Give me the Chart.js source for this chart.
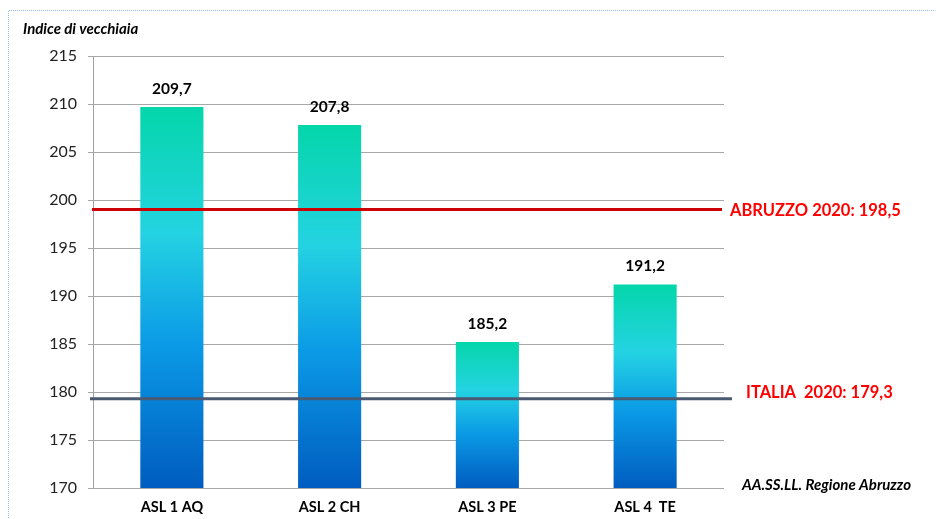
<!DOCTYPE html>
<html>
<head>
<meta charset="utf-8">
<script src="https://cdn.jsdelivr.net/npm/chart.js@4.4.0/dist/chart.umd.min.js"></script>
<style>
  html, body { margin: 0; padding: 0; background: #fff; }
  #wrap { width: 936px; height: 519px; position: relative; }
</style>
</head>
<body>
<div id="wrap"><canvas id="c" width="936" height="519"></canvas></div>
<script>
// ---- data ----
const categories = ['ASL 1 AQ', 'ASL 2 CH', 'ASL 3 PE', 'ASL 4  TE'];
const values = [209.7, 207.8, 185.2, 191.2];
const valueLabels = ['209,7', '207,8', '185,2', '191,2'];
const refNames = ['ABRUZZO 2020: 198,5', 'ITALIA  2020: 179,3'];
const refLineValues = [199.0, 179.3];   // where the lines sit in the picture
const yTicks = [170, 175, 180, 185, 190, 195, 200, 205, 210, 215];
const yTitle = 'Indice di vecchiaia';
const sourceText = 'AA.SS.LL. Regione Abruzzo';

const FONT = 'Lato, "Liberation Sans", sans-serif';

function barGradient(ctx) {
  const chart = ctx.chart;
  const ys = chart.scales && chart.scales.y;
  if (!ys || !chart.chartArea || ctx.raw === undefined) return '#1ab0e0';
  const top = ys.getPixelForValue(ctx.raw);
  const bottom = ys.getPixelForValue(ys.min);
  if (!isFinite(top) || !isFinite(bottom) || top === bottom) return '#1ab0e0';
  const g = chart.ctx.createLinearGradient(0, top, 0, bottom);
  g.addColorStop(0, '#04d6aa');
  g.addColorStop(0.33, '#24d3e2');
  g.addColorStop(0.62, '#0b9be6');
  g.addColorStop(1, '#005cc0');
  return g;
}

const overlay = {
  id: 'overlay',
  beforeDraw(chart) {
    const c = chart.ctx;
    c.save();
    c.strokeStyle = '#9ab9de';
    c.lineWidth = 1;
    c.setLineDash([1, 1]);
    c.beginPath();
    c.moveTo(8.5, 530);
    c.lineTo(8.5, 10.5);
    c.lineTo(935.5, 10.5);
    c.stroke();
    c.restore();
  },
  afterDatasetsDraw(chart) {
    const c = chart.ctx;
    const ys = chart.scales.y;
    const area = chart.chartArea;
    c.save();
    // reference lines
    const lineStyles = [
      { color: '#cc0000', x0: area.left - 1, x1: area.right - 2 },
      { color: '#4a5a72', x0: area.left - 3, x1: area.right + 8 }
    ];
    refLineValues.forEach((v, i) => {
      const y = ys.getPixelForValue(v);
      c.strokeStyle = lineStyles[i].color;
      c.lineWidth = 3;
      c.beginPath();
      c.moveTo(lineStyles[i].x0, y);
      c.lineTo(lineStyles[i].x1, y);
      c.stroke();
    });
    // reference labels
    c.fillStyle = '#ff0000';
    c.font = 'bold 16.5px ' + FONT;
    c.textBaseline = 'middle';
    c.textAlign = 'left';
    c.fillText(refNames[0], area.right + 6, ys.getPixelForValue(refLineValues[0]) + 1);
    c.fillText(refNames[1], area.right + 22, ys.getPixelForValue(refLineValues[1]) - 6);
    // value labels
    c.fillStyle = '#000';
    c.font = 'bold 15.5px ' + FONT;
    c.textAlign = 'center';
    c.textBaseline = 'alphabetic';
    const meta = chart.getDatasetMeta(0);
    meta.data.forEach((bar, i) => {
      c.fillText(valueLabels[i], bar.x, bar.y - 13);
    });
    // title and source
    c.font = 'italic bold 15px ' + FONT;
    c.textAlign = 'left';
    c.textBaseline = 'middle';
    c.fillText(yTitle, 23, 29);
    c.fillText(sourceText, area.right + 18, ys.getPixelForValue(170) - 3);
    c.restore();
  }
};

new Chart(document.getElementById('c'), {
  type: 'bar',
  data: {
    labels: categories,
    datasets: [{
      data: values,
      backgroundColor: barGradient,
      borderWidth: 0,
      barPercentage: 0.4,
      categoryPercentage: 1.0
    }]
  },
  options: {
    responsive: false,
    animation: false,
    devicePixelRatio: 1,
    layout: { padding: { top: 56, right: 212, left: 0, bottom: 0 } },
    plugins: { legend: { display: false }, tooltip: { enabled: false }, title: { display: false } },
    scales: {
      x: {
        grid: { display: false },
        border: { display: false },
        ticks: { color: '#000', font: { family: FONT, size: 14.5, weight: 'bold' }, padding: 3 },
        afterFit(scale) { scale.height = 31; }
      },
      y: {
        min: 170, max: 215,
        afterBuildTicks(scale) { scale.ticks = yTicks.map(v => ({ value: v })); },
        grid: { color: '#a8a8a8', lineWidth: 1, tickLength: 5, drawTicks: true },
        border: { display: true, color: '#a0a0a0', width: 1 },
        ticks: { color: '#222', font: { family: FONT, size: 16 }, padding: 11 },
        afterFit(scale) { scale.width = 93; }
      }
    }
  },
  plugins: [overlay]
});
</script>
</body>
</html>
